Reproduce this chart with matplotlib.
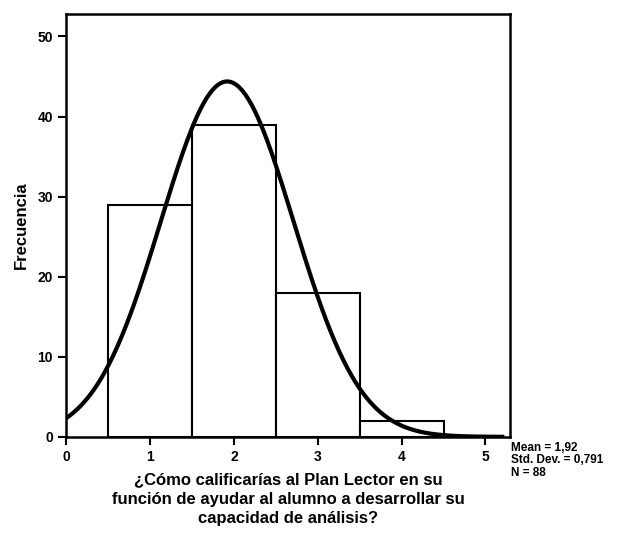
import numpy as np
import matplotlib.pyplot as plt

plt.rcParams['font.family'] = ['Liberation Sans', 'DejaVu Sans']

# histogram data (rating 1..4)
valores = [1, 2, 3, 4]
frecuencias = [29, 39, 18, 2]
media = 1.92
desv = 0.791
n = 88

fig = plt.figure(figsize=(6.24, 5.4), dpi=100)
ax = fig.add_axes([0.106, 0.191, 0.711, 0.783])

ax.bar(valores, frecuencias, width=1.0, facecolor='white', edgecolor='black',
       linewidth=1.5, zorder=2)

# normal curve scaled to counts (bin width 1)
xs = np.linspace(0, 5.2, 300)
ys = n / (desv * np.sqrt(2 * np.pi)) * np.exp(-(xs - media) ** 2 / (2 * desv ** 2))
ax.plot(xs, ys, color='black', linewidth=3, zorder=3)

ax.set_xlim(0, 5.29)
ax.set_ylim(0, 52.8)
ax.set_xticks([0, 1, 2, 3, 4, 5])
ax.set_yticks([0, 10, 20, 30, 40, 50])
ax.tick_params(direction='out', length=6, width=1.5, labelsize=10)
for lab in ax.get_xticklabels() + ax.get_yticklabels():
    lab.set_fontweight('bold')
for sp in ax.spines.values():
    sp.set_linewidth(1.8)

ax.set_ylabel('Frecuencia', fontsize=12, fontweight='bold', labelpad=6)
ax.set_xlabel('¿Cómo calificarías al Plan Lector en su\n'
              'función de ayudar al alumno a desarrollar su\n'
              'capacidad de análisis?',
              fontsize=12, fontweight='bold', linespacing=1.35, labelpad=6)

ax.text(1.002, -0.012,
        'Mean = %s\nStd. Dev. = %s\nN = %d' % ('1,92', '0,791', n),
        transform=ax.transAxes, ha='left', va='top', fontsize=8.5,
        fontweight='bold', linespacing=1.05)

fig.savefig('out.png', dpi=100)
